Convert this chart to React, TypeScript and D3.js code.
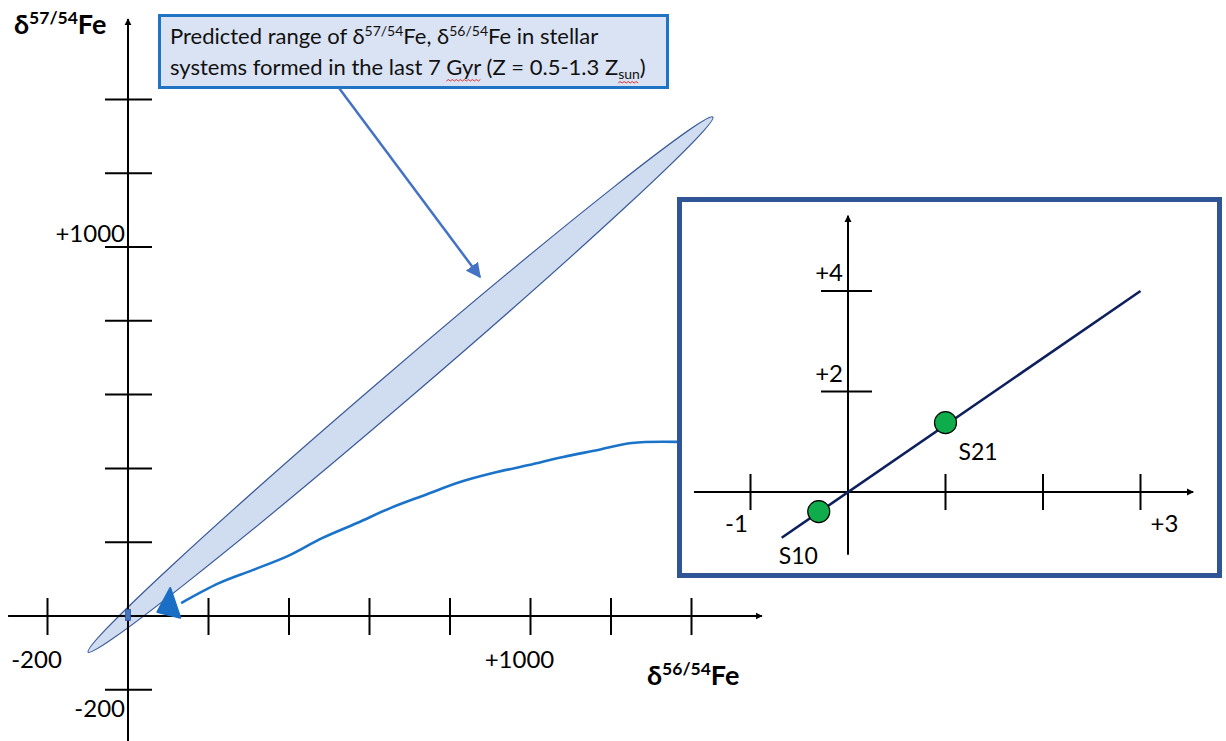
import React from "react";
import * as d3 from "d3";

// ---- main plot data ----
const mainXTicks = [-200, 200, 400, 600, 800, 1000, 1200, 1400];
const mainYTicks = [-200, 200, 400, 600, 800, 1000, 1200, 1400];
const mainXLabels = [
  { v: -200, t: "-200" },
  { v: 1000, t: "+1000" },
];
const mainYLabels = [
  { v: -200, t: "-200" },
  { v: 1000, t: "+1000" },
];
// evolution curve (delta56, delta57)
const curveX = [132, 226, 311, 398, 482, 569, 653, 738, 825, 909, 996, 1081, 1168, 1252, 1364];
const curveY = [35, 89, 125, 163, 211, 252, 293, 328, 363, 388, 409, 431, 450, 469, 472];
// predicted range ellipse tips (delta56, delta57)
const ellipseTips = [
  [-99, -98],
  [1453, 1352],
];

// ---- inset data ----
const insetXTicks = [-1, 1, 2, 3];
const insetYTicks = [2, 4];
const insetXLabels = [
  { v: -1, t: "-1" },
  { v: 3, t: "+3" },
];
const insetYLabels = [
  { v: 2, t: "+2" },
  { v: 4, t: "+4" },
];
const insetLineX = [-0.68, 3];
const insetLineY = [-0.91, 4.0];
const samples = [
  { name: "S21", x: 1.0, y: 1.38 },
  { name: "S10", x: -0.3, y: -0.39 },
];

const FONT = "Lato, 'Open Sans', sans-serif";

export default function App() {
  const x = d3.scaleLinear().domain([0, 1000]).range([128, 530.5]);
  const y = d3.scaleLinear().domain([0, 1000]).range([616, 247]);
  const ix = d3.scaleLinear().domain([0, 3]).range([848, 1140.5]);
  const iy = d3.scaleLinear().domain([0, 4]).range([492, 291]);

  const gyrRef = React.useRef<SVGTSpanElement>(null);
  const sunRef = React.useRef<SVGTSpanElement>(null);
  const [sq, setSq] = React.useState<number[][]>([]);

  React.useLayoutEffect(() => {
    const out: number[][] = [];
    for (const r of [gyrRef.current, sunRef.current]) {
      if (!r) continue;
      const n = r.getNumberOfChars();
      const s = r.getStartPositionOfChar(0);
      const e = r.getEndPositionOfChar(n - 1);
      out.push([s.x, e.x, s.y]);
    }
    setSq(out);
  }, []);

  const curvePts: [number, number][] = curveX.map((v, i) => [x(v), y(curveY[i])]);
  const curvePath = d3.line().curve(d3.curveCatmullRom.alpha(0.5))(curvePts) || "";

  const [p1, p2] = ellipseTips.map(([a, b]) => [x(a), y(b)]);
  const ecx = (p1[0] + p2[0]) / 2;
  const ecy = (p1[1] + p2[1]) / 2;
  const erx = Math.hypot(p2[0] - p1[0], p2[1] - p1[1]) / 2;
  const eang = (Math.atan2(p2[1] - p1[1], p2[0] - p1[0]) * 180) / Math.PI;

  const insetLine = d3.line()(insetLineX.map((v, i) => [ix(v), iy(insetLineY[i])]) as [number, number][]) || "";

  const squiggle = (x0: number, x1: number, yy: number) => {
    let d = `M${x0},${yy}`;
    let up = true;
    for (let xx = x0 + 2; xx <= x1; xx += 2) {
      d += ` L${xx},${yy + (up ? -1.5 : 0)}`;
      up = !up;
    }
    return d;
  };

  return (
    <svg
      width={1226}
      height={741}
      style={{ position: "absolute", left: 0, top: 0, background: "#fff" }}
      fontFamily={FONT}
    >
      <defs>
        <marker id="axArrow" viewBox="0 0 10 10" refX="9" refY="5" markerWidth="7" markerHeight="8" orient="auto" markerUnits="userSpaceOnUse">
          <path d="M0,0 L10,5 L0,10 z" fill="#000" />
        </marker>
        <marker id="blueArrow" viewBox="0 0 10 10" refX="9" refY="5" markerWidth="15" markerHeight="15" orient="auto" markerUnits="userSpaceOnUse">
          <path d="M0,0 L10,5 L0,10 z" fill="#4472c4" />
        </marker>
      </defs>

      {/* ellipse - predicted range */}
      <ellipse
        cx={ecx}
        cy={ecy}
        rx={erx}
        ry={16}
        transform={`rotate(${eang},${ecx},${ecy})`}
        fill="#d0dcf0"
        stroke="#3a5a98"
        strokeWidth={1.2}
      />

      {/* main axes */}
      <line x1={x(-298)} x2={x(1575)} y1={y(0)} y2={y(0)} stroke="#000" strokeWidth={2} markerEnd="url(#axArrow)" />
      <line x1={x(0)} x2={x(0)} y1={y(-340)} y2={y(1618)} stroke="#000" strokeWidth={2} markerEnd="url(#axArrow)" />
      {mainXTicks.map((t) => (
        <line key={"xt" + t} x1={x(t)} x2={x(t)} y1={y(0) - 18} y2={y(0) + 19} stroke="#000" strokeWidth={2} />
      ))}
      {mainYTicks.map((t) => (
        <line key={"yt" + t} x1={x(0) - 23} x2={x(0) + 24} y1={y(t)} y2={y(t)} stroke="#000" strokeWidth={2} />
      ))}
      {mainXLabels.map((l) => (
        <text key={"xl" + l.v} x={x(l.v) - 11} y={668} fontSize={24} textAnchor="middle" fill="#000">
          {l.t}
        </text>
      ))}
      {mainYLabels.map((l) => (
        <text key={"yl" + l.v} x={x(0) - 3} y={y(l.v) + (l.v < 0 ? 27 : -5)} fontSize={24} textAnchor="end" fill="#000">
          {l.t}
        </text>
      ))}

      {/* axis titles */}
      <text x={14} y={34} fontSize={27} fontWeight="bold" fill="#000">
        δ<tspan fontSize={17.5} dy={-10}>57/54</tspan>
        <tspan dy={10}>Fe</tspan>
      </text>
      <text x={647} y={685} fontSize={27} fontWeight="bold" fill="#000">
        δ<tspan fontSize={17.5} dy={-10}>56/54</tspan>
        <tspan dy={10}>Fe</tspan>
      </text>

      {/* evolution curve */}
      <path d={curvePath} fill="none" stroke="#1a73c9" strokeWidth={2.6} />
      <path
        d={`M${x(105)},${y(76)} L${x(73)},${y(11)} L${x(130)},${y(-5)} Z`}
        fill="#1a6fc4"
        stroke="#1a6fc4"
        strokeWidth={2}
        strokeLinejoin="round"
      />
      <rect x={x(0) - 2.5} y={y(18)} width={5} height={11} fill="#4472c4" stroke="#2f5597" strokeWidth={0.8} />

      {/* callout */}
      <rect x={159.5} y={15.5} width={508} height={72} fill="#dae3f3" stroke="#1f74c4" strokeWidth={3} />
      <text x={170} y={44} fontSize={22} fill="#111">
        Predicted range of δ<tspan fontSize={14} dy={-8}>57/54</tspan>
        <tspan dy={8}>Fe, δ</tspan>
        <tspan fontSize={14} dy={-8}>56/54</tspan>
        <tspan dy={8}>Fe in stellar</tspan>
      </text>
      <text x={170} y={75} fontSize={22} fill="#111">
        systems formed in the last 7 <tspan ref={gyrRef}>Gyr</tspan> (Z = 0.5-1.3 Z
        <tspan ref={sunRef} fontSize={14} dy={4}>sun</tspan>
        <tspan dy={-4}>)</tspan>
      </text>
      {sq.map((s, i) => (
        <path key={"sq" + i} d={squiggle(s[0], s[1], s[2] + (i === 0 ? 6 : 4))} fill="none" stroke="#e03030" strokeWidth={1} />
      ))}
      <line x1={339} y1={88} x2={480} y2={277} stroke="#4472c4" strokeWidth={2.5} markerEnd="url(#blueArrow)" />

      {/* inset */}
      <rect x={679.5} y={199.5} width={540} height={376} fill="#fff" stroke="#2f5597" strokeWidth={5} />
      <line x1={ix(-1.58)} x2={ix(3.54)} y1={iy(0)} y2={iy(0)} stroke="#000" strokeWidth={2} markerEnd="url(#axArrow)" />
      <line x1={ix(0)} x2={ix(0)} y1={iy(-1.25)} y2={iy(5.5)} stroke="#000" strokeWidth={2} markerEnd="url(#axArrow)" />
      {insetXTicks.map((t) => (
        <line key={"ixt" + t} x1={ix(t)} x2={ix(t)} y1={iy(0) - 18} y2={iy(0) + 18} stroke="#000" strokeWidth={2} />
      ))}
      {insetYTicks.map((t) => (
        <line key={"iyt" + t} x1={ix(0) - 27} x2={ix(0) + 24} y1={iy(t)} y2={iy(t)} stroke="#000" strokeWidth={2} />
      ))}
      {insetXLabels.map((l) => (
        <text key={"ixl" + l.v} x={ix(l.v) + (l.v < 0 ? -14 : 24)} y={iy(0) + 40} fontSize={24} textAnchor="middle" fill="#000">
          {l.t}
        </text>
      ))}
      {insetYLabels.map((l) => (
        <text key={"iyl" + l.v} x={ix(0) - 5} y={iy(l.v) - 10} fontSize={24} textAnchor="end" fill="#000">
          {l.t}
        </text>
      ))}
      <path d={insetLine} fill="none" stroke="#0d1f5c" strokeWidth={2.6} />
      {samples.map((s) => (
        <circle key={s.name} cx={ix(s.x)} cy={iy(s.y)} r={11} fill="#0fac4c" stroke="#000" strokeWidth={1.2} />
      ))}
      <text x={ix(samples[0].x) + 13} y={iy(samples[0].y) + 37} fontSize={23} fill="#000">
        {samples[0].name}
      </text>
      <text x={ix(samples[1].x) - 40} y={iy(samples[1].y) + 52} fontSize={23} fill="#000">
        {samples[1].name}
      </text>
    </svg>
  );
}
